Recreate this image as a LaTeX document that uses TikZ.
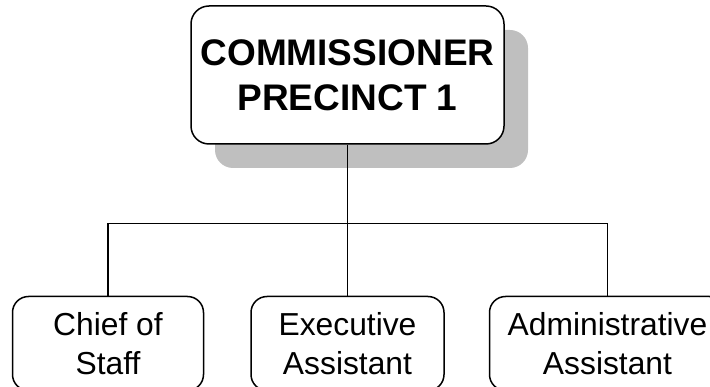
\documentclass[tikz,border=0pt]{standalone}
\usepackage{fontspec}
\setmainfont{Liberation Sans}
\usetikzlibrary{positioning,shadows,calc}
\tikzset{
    head box/.style = {
        draw,
        line width=1.5pt,
        rounded corners=18pt,
        fill = white,
        align = center,
        minimum width=313pt,
        minimum height=138pt,
        font = \fontsize{37}{45}\selectfont\bfseries,
        drop shadow = {shadow xshift=24pt, shadow yshift=-24pt, fill=black!25, opacity=1},
        },
    staff box/.style = {
        draw,
        line width=1.5pt,
        rounded corners=16pt,
        fill = white,
        align = center,
        minimum height=94pt,
        font = \fontsize{31.8}{39.5}\selectfont,
        },
    link/.style = {
        draw,
        line width=1.5pt,
        },
}
\begin{document}
\begin{tikzpicture}[x=1pt, y=-1pt, node distance=46pt]
            \clip (0,0) rectangle (710,387);
            \node[head box] (comm) at (347.5,75) {COMMISSIONER\\PRECINCT 1};
            \node[staff box, minimum width=193pt, below=151pt of comm] (exec) {Executive\\Assistant};
            \node[staff box, minimum width=191pt, left=of exec] (chief) {Chief of\\Staff};
            \node[staff box, minimum width=236pt, right=44pt of exec] (admin) {Administrative\\Assistant};
            \coordinate[below=79pt of comm.south] (bar);

            \path[link] (comm.south) -- (exec.north);
            \path[link] (chief.north) |- (bar) -| (admin.north);
        \end{tikzpicture}
\end{document}
